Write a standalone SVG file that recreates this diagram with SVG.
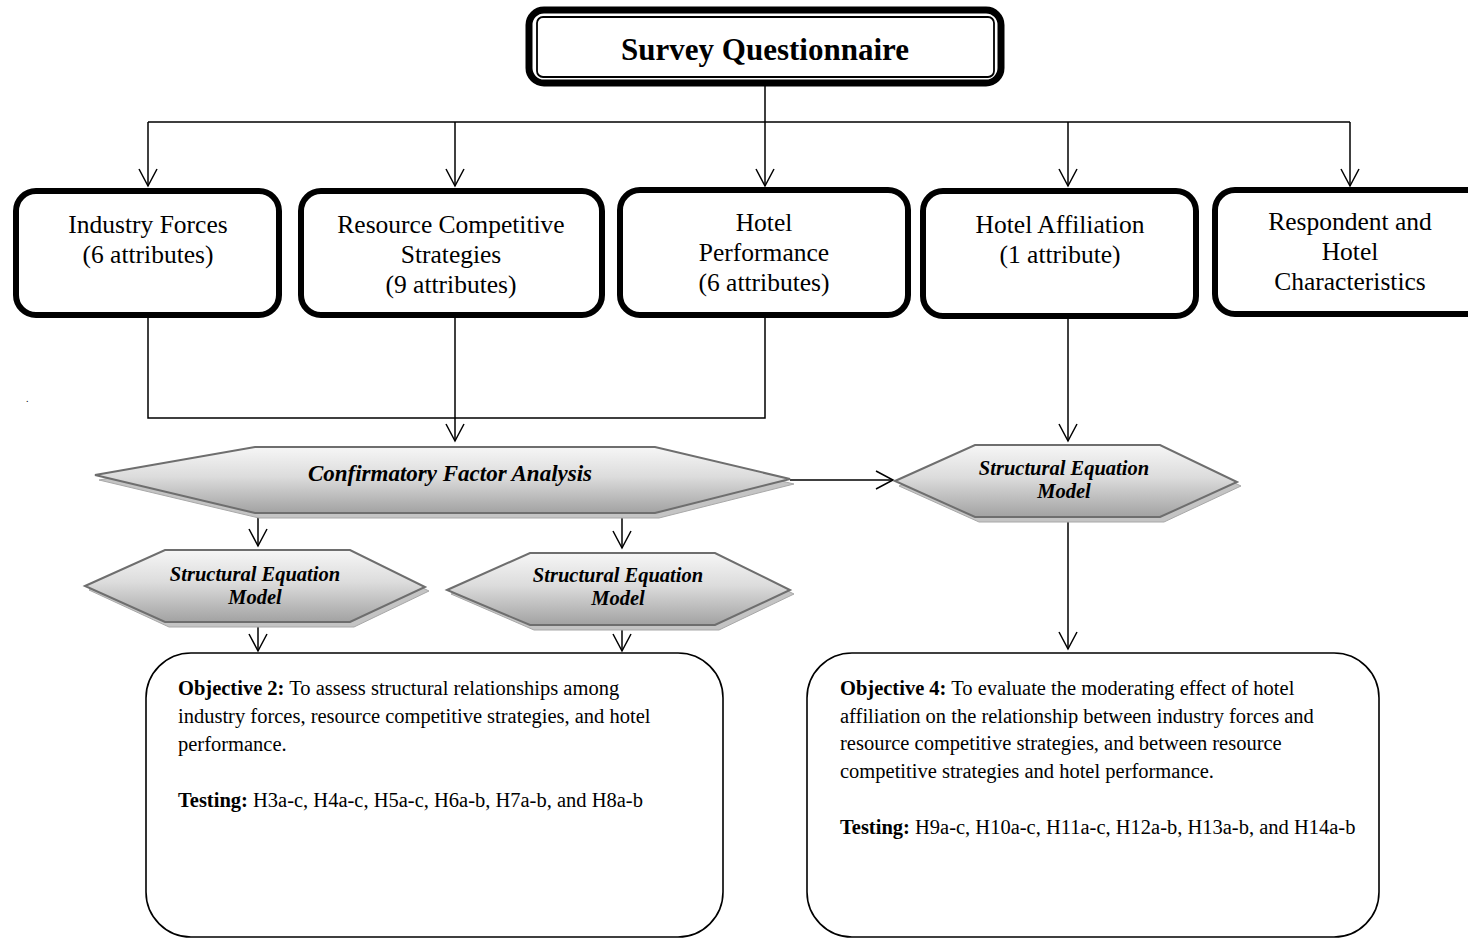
<svg xmlns="http://www.w3.org/2000/svg" width="1468" height="939" viewBox="0 0 1468 939">
  <style>
    .box { fill: #ffffff; stroke: #000000; stroke-width: 6; }
    .lbl { font-family: "Liberation Serif", "Times New Roman", serif; font-size: 25.5px; fill: #000; text-anchor: middle; }
    .hex { stroke: #6e6e6e; stroke-width: 2; fill: url(#hexFill); }
    .shadow { fill: #c4c4c4; stroke: #a8a8a8; stroke-width: 1; }
    .hlbl { font-family: "Liberation Serif", "Times New Roman", serif; font-weight: bold; font-style: italic; fill: #000; text-anchor: middle; }
    .wire { fill: none; stroke: #000; stroke-width: 1.5; }
    .obj { fill: #fff; stroke: #000; stroke-width: 1.6; }
    .otxt { font-family: "Liberation Serif", "Times New Roman", serif; font-size: 20.5px; fill: #000; }
  </style>
  <defs>
    <linearGradient id="hexFill" x1="0" y1="0" x2="0" y2="1">
      <stop offset="0" stop-color="#f6f6f6"/>
      <stop offset="0.45" stop-color="#dcdcdc"/>
      <stop offset="1" stop-color="#a2a2a2"/>
    </linearGradient>
    <marker id="vhead" markerUnits="userSpaceOnUse" markerWidth="20" markerHeight="22" refX="17" refY="10" orient="auto" overflow="visible">
      <path d="M0,1 L17,10 L0,19" fill="none" stroke="#000" stroke-width="1.5"/>
    </marker>
  </defs>

  <!-- top source box -->
  <g id="survey">
    <rect x="529" y="10" width="472" height="73" rx="15" fill="#fff" stroke="#000" stroke-width="7"/>
    <rect x="537" y="17" width="457" height="60" rx="6" fill="none" stroke="#000" stroke-width="1.8"/>
    <text x="765" y="60" font-family="Liberation Serif, Times New Roman, serif" font-size="31" font-weight="bold" text-anchor="middle">Survey Questionnaire</text>
  </g>

  <!-- connectors -->
  <g id="connectors" class="wire">
    <path d="M765,84 V122 M148,122 H1350"/>
    <path d="M148,122 V186" marker-end="url(#vhead)"/>
    <path d="M455,122 V186" marker-end="url(#vhead)"/>
    <path d="M765,122 V186" marker-end="url(#vhead)"/>
    <path d="M1068,122 V186" marker-end="url(#vhead)"/>
    <path d="M1350,122 V186" marker-end="url(#vhead)"/>
    <path d="M148,318 V418 H765 V318"/>
    <path d="M455,318 V441" marker-end="url(#vhead)"/>
    <path d="M1068,318 V441" marker-end="url(#vhead)"/>
    <path d="M790,480 H893" marker-end="url(#vhead)"/>
    <path d="M258,513 V546" marker-end="url(#vhead)"/>
    <path d="M622,513 V548" marker-end="url(#vhead)"/>
    <path d="M258,622 V651" marker-end="url(#vhead)"/>
    <path d="M622,625 V651" marker-end="url(#vhead)"/>
    <path d="M1068,517 V649" marker-end="url(#vhead)"/>
  </g>

  <!-- attribute boxes -->
  <g id="industry-forces">
    <rect class="box" x="16" y="191" width="263" height="124" rx="20"/>
    <text class="lbl" x="148" y="233">Industry Forces</text>
    <text class="lbl" x="148" y="263">(6 attributes)</text>
  </g>
  <g id="resource-strategies">
    <rect class="box" x="301" y="191" width="301" height="124" rx="20"/>
    <text class="lbl" x="451" y="233">Resource Competitive</text>
    <text class="lbl" x="451" y="263">Strategies</text>
    <text class="lbl" x="451" y="293">(9 attributes)</text>
  </g>
  <g id="hotel-performance">
    <rect class="box" x="620" y="190" width="288" height="125" rx="20"/>
    <text class="lbl" x="764" y="231">Hotel</text>
    <text class="lbl" x="764" y="261">Performance</text>
    <text class="lbl" x="764" y="291">(6 attributes)</text>
  </g>
  <g id="hotel-affiliation">
    <rect class="box" x="923" y="191" width="273" height="125" rx="20"/>
    <text class="lbl" x="1060" y="233">Hotel Affiliation</text>
    <text class="lbl" x="1060" y="263">(1 attribute)</text>
  </g>
  <g id="respondent-characteristics">
    <rect class="box" x="1215" y="190" width="280" height="124" rx="20"/>
    <text class="lbl" x="1350" y="230">Respondent and</text>
    <text class="lbl" x="1350" y="260">Hotel</text>
    <text class="lbl" x="1350" y="290">Characteristics</text>
  </g>

  <text x="26" y="402" font-family="Liberation Serif, serif" font-size="10">.</text>

  <!-- analysis steps -->
  <g id="cfa">
    <polygon class="shadow" points="99,480 259,452 659,452 794,484 659,518 259,518"/>
    <polygon class="hex" points="95,475 255,447 655,447 790,479 655,513 255,513"/>
    <text class="hlbl" x="450" y="481" font-size="23">Confirmatory Factor Analysis</text>
  </g>
  <g id="sem-left">
    <polygon class="shadow" points="89,590 169,554 354,554 429,591 354,627 169,627"/>
    <polygon class="hex" points="85,586 165,550 350,550 425,587 350,622 165,622"/>
    <text class="hlbl" x="255" y="581" font-size="20.5">Structural Equation</text>
    <text class="hlbl" x="255" y="604" font-size="20.5">Model</text>
  </g>
  <g id="sem-middle">
    <polygon class="shadow" points="451,594 534,557 719,557 794,594 719,630 534,630"/>
    <polygon class="hex" points="447,590 530,553 715,553 790,590 715,625 530,625"/>
    <text class="hlbl" x="618" y="582" font-size="20.5">Structural Equation</text>
    <text class="hlbl" x="618" y="605" font-size="20.5">Model</text>
  </g>
  <g id="sem-right">
    <polygon class="shadow" points="899,486 979,449 1164,449 1241,486 1164,522 979,522"/>
    <polygon class="hex" points="895,481 975,445 1160,445 1237,482 1160,517 975,517"/>
    <text class="hlbl" x="1064" y="475" font-size="20.5">Structural Equation</text>
    <text class="hlbl" x="1064" y="498" font-size="20.5">Model</text>
  </g>

  <!-- objectives -->
  <g id="objective-2">
    <rect class="obj" x="146" y="653" width="577" height="284" rx="45"/>
    <text class="otxt" x="178" y="695"><tspan font-weight="bold">Objective 2:</tspan> To assess structural relationships among</text>
    <text class="otxt" x="178" y="723">industry forces, resource competitive strategies, and hotel</text>
    <text class="otxt" x="178" y="751">performance.</text>
    <text class="otxt" x="178" y="807"><tspan font-weight="bold">Testing:</tspan> H3a-c, H4a-c, H5a-c, H6a-b, H7a-b, and H8a-b</text>
  </g>
  <g id="objective-4">
    <rect class="obj" x="807" y="653" width="572" height="284" rx="45"/>
    <text class="otxt" x="840" y="695"><tspan font-weight="bold">Objective 4:</tspan> To evaluate the moderating effect of hotel</text>
    <text class="otxt" x="840" y="723">affiliation on the relationship between industry forces and</text>
    <text class="otxt" x="840" y="750">resource competitive strategies, and between resource</text>
    <text class="otxt" x="840" y="778">competitive strategies and hotel performance.</text>
    <text class="otxt" x="840" y="834"><tspan font-weight="bold">Testing:</tspan> H9a-c, H10a-c, H11a-c, H12a-b, H13a-b, and H14a-b</text>
  </g>
</svg>
